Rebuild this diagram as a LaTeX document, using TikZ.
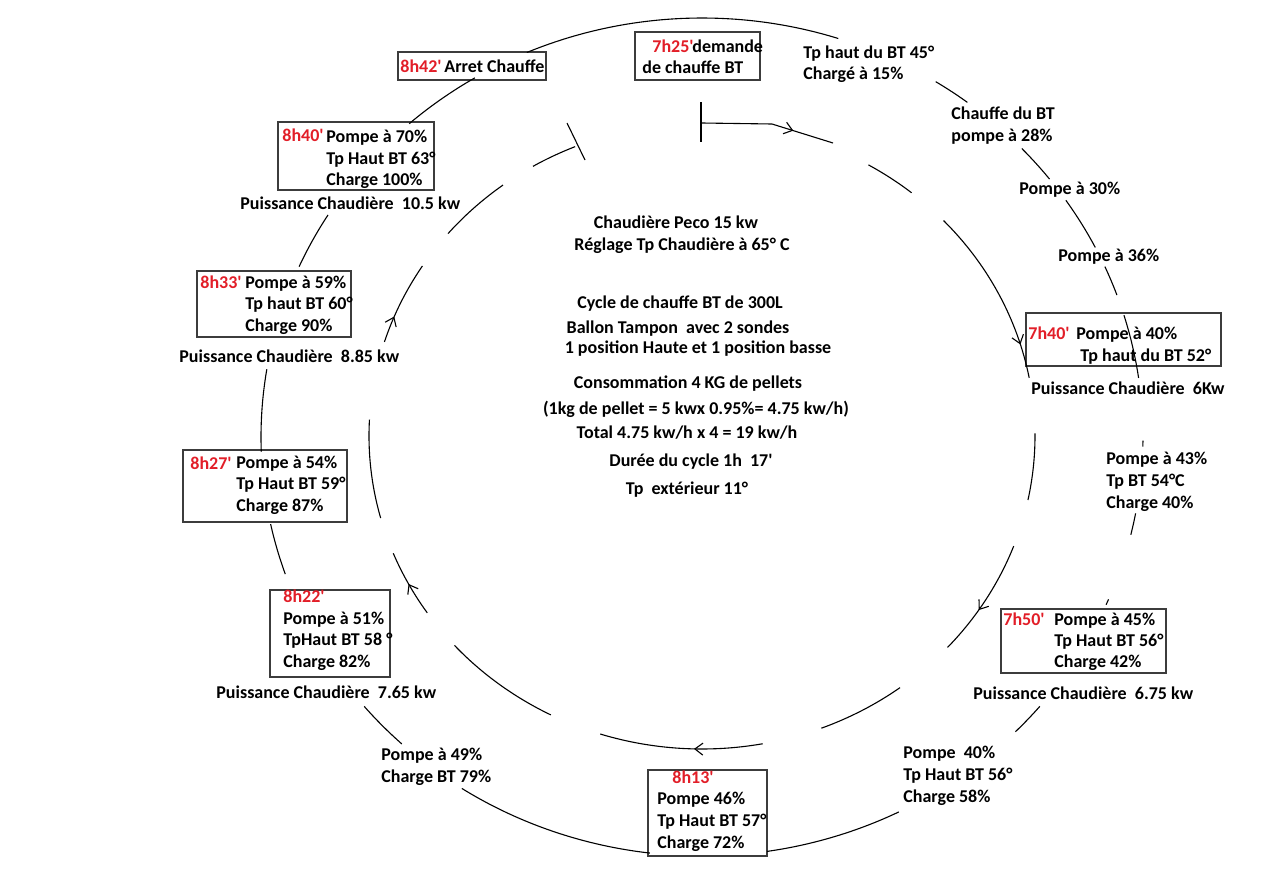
\documentclass[tikz,border=0pt]{standalone}
\usepackage{fontspec}
\setmainfont{Carlito}[Ligatures=TeXOff]
\usetikzlibrary{arrows.meta,decorations.markings,fit}
\definecolor{tred}{RGB}{226,30,40}
\definecolor{boxgray}{RGB}{60,60,60}
\newcommand{\outerarc}[3][]{\draw[cyc,#1] ([shift={(702,-437)}]#2:441 and 419) arc[start angle=#2,end angle=#3,x radius=441,y radius=419];}
\newcommand{\innerarc}[3][]{\draw[cyc,#1] ([shift={(702,-436)}]#2:333 and 313) arc[start angle=#2,end angle=#3,x radius=333,y radius=313];}
\tikzset{
  cyc/.style={line width=0.55pt, black},
  arrowat/.style={postaction={decorate}, decoration={markings, mark=at position #1 with {\arrow{Straight Barb[length=4pt,width=6pt,line width=0.55pt]}}}},
  lbl/.style={anchor=base west, inner sep=0pt, font=\fontsize{9}{11}\selectfont\bfseries},
  clbl/.style={anchor=base, inner sep=0pt, font=\fontsize{9}{11}\selectfont\bfseries},
  tlbl/.style={lbl, text=tred},
  boxst/.style={draw=boxgray, line width=0.6pt, inner sep=0pt},
}
\begin{document}
\begin{tikzpicture}[x=0.5pt,y=0.5pt]
\fill[white] (0,0) rectangle (1280,-873);
\useasboundingbox (0,0) rectangle (1280,-873);

% ---------- boxes ----------
\node[boxst, fit={(398,-52) (546,-80)}] (b842) {};
\node[boxst, fit={(635,-32) (760,-80)}] (b725) {};
\node[boxst, fit={(1026,-313) (1221,-366)}] (b740) {};
\node[boxst, fit={(1001,-609) (1166,-673)}] (b750) {};
\node[boxst, fit={(648,-770) (767,-856)}] (b813) {};
\node[boxst, fit={(270,-590) (390,-677)}] (b822) {};
\node[boxst, fit={(183,-450) (347,-522)}] (b827) {};
\node[boxst, fit={(197,-271) (351,-337)}] (b833) {};
\node[boxst, fit={(278,-122) (434,-190)}] (b840) {};

% ---------- outer cycle ----------
\outerarc{113.4}{72}
\outerarc{58}{53}
\outerarc{43.5}{38}
\outerarc{34.4}{26.9}
\outerarc{24}{19.8}
\outerarc{16.9}{8.1}
\outerarc{-0.5}{-1.3}
\outerarc{-10.5}{-13.5}
\outerarc{-22.8}{-23.6}
\outerarc{-40}{-44.7}
\outerarc{-63.5}{-81.5}
\outerarc{-96.8}{-123}
\outerarc{-132.9}{-140}
\outerarc{-160.9}{-168}
\outerarc{170.7}{182}
\outerarc{156}{148}
\outerarc{131.6}{121}

% ---------- inner cycle ----------
\coordinate (tickT1) at (701,-102);
\coordinate (tickT2) at (701,-142);
\coordinate (startI) at (702,-123);
\coordinate (bendI) at (772,-124);
\coordinate (endI) at (833,-143);
\draw[cyc] (tickT1) -- (tickT2);
\draw[cyc, arrowat=0.69] (startI) -- (bendI) -- (endI);
\innerarc{60}{51}
\innerarc[arrowat=0.81]{43.5}{10.7}
\innerarc{0.5}{-11.8}
\innerarc[arrowat=0.6]{-20.6}{-42.5}
\innerarc{-53.5}{-69}
\innerarc[arrowat=0.42]{-79.5}{-107.8}
\innerarc{-117}{-138}
\innerarc[arrowat=0.5]{-145.6}{-158}
\innerarc{-164.8}{-183}
\innerarc[arrowat=0.32]{-197.5}{-212.9}
\innerarc{139.7}{126.7}
\innerarc{120.5}{112.4}
\coordinate (tickL1) at (567,-123);
\coordinate (tickL2) at (585,-160);
\draw[cyc] (tickL1) -- (tickL2);

% ---------- labels ----------
\node[tlbl] (t842) at (400,-72) {8h42'};
\node[lbl] (l842) at (444,-72) {Arret Chauffe};

\node[tlbl] (t725) at (652,-52) {7h25'};
\node[lbl] (l725a) at (692,-52) {demande};
\node[lbl] (l725b) at (642,-73) {de chauffe BT};

\node[lbl] (n1a) at (803,-58) {Tp haut du BT 45°};
\node[lbl] (n1b) at (803,-79) {Chargé à 15\%};

\node[lbl] (n2a) at (951,-119) {Chauffe du BT};
\node[lbl] (n2b) at (951,-141) {pompe à 28\%};

\node[lbl] (n3) at (1019,-194) {Pompe à 30\%};
\node[lbl] (n4) at (1058,-261) {Pompe à 36\%};

\node[tlbl] (t740) at (1028,-339) {7h40'};
\node[lbl] (l740a) at (1076,-339) {Pompe à 40\%};
\node[lbl] (l740b) at (1080,-361) {Tp haut du BT 52°};
\node[lbl] (p740) at (1031,-394) {Puissance Chaudière\ \ 6Kw};

\node[lbl] (n5a) at (1106,-464) {Pompe à 43\%};
\node[lbl] (n5b) at (1106,-486) {Tp BT 54°C};
\node[lbl] (n5c) at (1106,-508) {Charge 40\%};

\node[tlbl] (t750) at (1003,-625) {7h50'};
\node[lbl] (l750a) at (1054,-625) {Pompe à 45\%};
\node[lbl] (l750b) at (1054,-646) {Tp Haut BT 56°};
\node[lbl] (l750c) at (1054,-667) {Charge 42\%};
\node[lbl] (p750) at (973,-699) {Puissance Chaudière\ \ 6.75 kw};

\node[lbl] (n6a) at (903,-758) {Pompe\ \ 40\%};
\node[lbl] (n6b) at (903,-780) {Tp Haut BT 56°};
\node[lbl] (n6c) at (903,-802) {Charge 58\%};

\node[tlbl] (t813) at (672,-783) {8h13'};
\node[lbl] (l813a) at (657,-804) {Pompe 46\%};
\node[lbl] (l813b) at (657,-826) {Tp Haut BT 57°};
\node[lbl] (l813c) at (657,-848) {Charge 72\%};

\node[lbl] (n7a) at (381,-760) {Pompe à 49\%};
\node[lbl] (n7b) at (381,-782) {Charge BT 79\%};

\node[lbl] (p822) at (216,-698) {Puissance Chaudière\ \ 7.65 kw};
\node[tlbl] (t822) at (283,-602) {8h22'};
\node[lbl] (l822a) at (283,-624) {Pompe à 51\%};
\node[lbl] (l822b) at (283,-645) {TpHaut BT 58 °};
\node[lbl] (l822c) at (283,-667) {Charge 82\%};

\node[tlbl] (t827) at (190,-469) {8h27'};
\node[lbl] (l827a) at (236,-468) {Pompe à 54\%};
\node[lbl] (l827b) at (236,-489) {Tp Haut BT 59°};
\node[lbl] (l827c) at (236,-511) {Charge 87\%};

\node[lbl] (p833) at (179,-362) {Puissance Chaudière\ \ 8.85 kw};
\node[tlbl] (t833) at (200,-288) {8h33'};
\node[lbl] (l833a) at (245,-288) {Pompe à 59\%};
\node[lbl] (l833b) at (245,-309) {Tp haut BT 60°};
\node[lbl] (l833c) at (245,-331) {Charge 90\%};

\node[lbl] (p840) at (240,-209) {Puissance Chaudière\ \ 10.5 kw};
\node[tlbl] (t840) at (282,-141) {8h40'};
\node[lbl] (l840a) at (326,-142) {Pompe à 70\%};
\node[lbl] (l840b) at (326,-164) {Tp Haut BT 63°};
\node[lbl] (l840c) at (326,-185) {Charge 100\%};

% ---------- centre text ----------
\node[clbl] (c1) at (676,-228) {Chaudière Peco 15 kw};
\node[clbl] (c2) at (682,-250) {Réglage Tp Chaudière à 65° C};
\node[clbl] (c3) at (680,-308) {Cycle de chauffe BT de 300L};
\node[clbl] (c4) at (678,-333) {Ballon Tampon\ \ avec 2 sondes};
\node[clbl] (c5) at (698,-353) {1 position Haute et 1 position basse};
\node[clbl] (c6) at (688,-388) {Consommation 4 KG de pellets};
\node[clbl] (c7) at (696,-414) {(1kg de pellet = 5 kwx 0.95\%= 4.75 kw/h)};
\node[clbl] (c8) at (687,-438) {Total 4.75 kw/h x 4 = 19 kw/h};
\node[clbl] (c9) at (691,-466) {Durée du cycle 1h\ \ 17'};
\node[clbl] (c10) at (687,-494) {Tp\ \ extérieur 11°};
\end{tikzpicture}
\end{document}
